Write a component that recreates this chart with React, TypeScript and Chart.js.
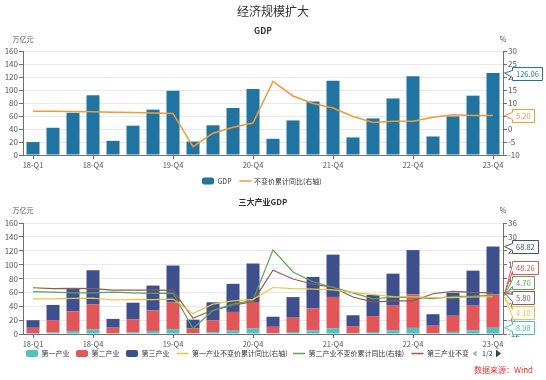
import React, { useEffect, useRef } from 'react';
import { Chart, registerables } from 'chart.js';

Chart.register(...registerables);

// ---------------- data ----------------
const QUARTERS = [
  '18-Q1', '18-Q2', '18-Q3', '18-Q4',
  '19-Q1', '19-Q2', '19-Q3', '19-Q4',
  '20-Q1', '20-Q2', '20-Q3', '20-Q4',
  '21-Q1', '21-Q2', '21-Q3', '21-Q4',
  '22-Q1', '22-Q2', '22-Q3', '22-Q4',
  '23-Q1', '23-Q2', '23-Q3', '23-Q4',
];
const SHOWN_LABELS = ['18-Q1', '18-Q4', '19-Q4', '20-Q4', '21-Q4', '22-Q4', '23-Q4'];

// GDP, cumulative, 万亿元
const GDP = [
  19.9, 41.9, 65.0, 91.9,
  21.8, 45.1, 69.8, 98.7,
  20.7, 45.7, 72.3, 101.6,
  24.9, 53.2, 82.3, 114.4,
  27.0, 56.3, 87.0, 121.0,
  28.5, 59.3, 91.3, 126.06,
];
// 不变价累计同比 %
const GDP_YOY = [
  6.8, 6.8, 6.7, 6.6,
  6.4, 6.3, 6.2, 6.0,
  -6.8, -1.6, 0.7, 2.3,
  18.3, 12.7, 9.8, 8.1,
  4.8, 2.5, 3.0, 3.0,
  4.5, 5.5, 5.2, 5.2,
];

// three industries, cumulative, 万亿元
const PRIMARY = [
  0.89, 2.21, 4.24, 6.47,
  0.88, 2.30, 4.37, 7.05,
  1.02, 2.61, 4.83, 7.78,
  1.11, 2.84, 5.14, 8.31,
  1.09, 2.91, 5.43, 8.83,
  1.16, 3.01, 5.36, 8.98,
];
const SECONDARY = [
  8.09, 17.88, 28.41, 36.48,
  8.26, 18.96, 29.50, 38.60,
  7.36, 17.24, 26.98, 38.40,
  9.25, 20.70, 32.05, 45.09,
  10.28, 22.85, 35.44, 48.32,
  10.78, 23.30, 35.50, 48.26,
];
const TERTIARY = [
  10.92, 21.81, 32.35, 48.95,
  12.66, 23.84, 35.93, 53.05,
  12.32, 25.85, 40.49, 55.42,
  14.54, 29.66, 45.11, 61.00,
  15.63, 30.54, 46.13, 63.85,
  16.56, 32.99, 50.44, 68.82,
];
const PRIMARY_YOY = [
  3.2, 3.2, 3.4, 3.5,
  2.7, 3.0, 2.9, 3.1,
  -3.2, 0.9, 2.3, 3.0,
  8.1, 7.6, 7.4, 7.1,
  6.0, 5.0, 4.2, 4.1,
  3.7, 3.7, 4.0, 4.1,
];
const SECONDARY_YOY = [
  6.3, 6.1, 5.8, 5.8,
  6.1, 5.8, 5.6, 5.7,
  -9.6, -1.9, 0.9, 2.6,
  24.4, 14.8, 10.6, 8.2,
  5.8, 3.2, 3.9, 3.8,
  3.3, 4.3, 4.4, 4.7,
];
const TERTIARY_YOY = [
  8.0, 7.6, 7.7, 7.6,
  7.0, 7.0, 7.0, 6.9,
  -5.2, -1.6, 0.4, 2.1,
  15.6, 11.8, 9.5, 8.2,
  4.0, 1.8, 2.3, 2.3,
  5.4, 6.4, 6.0, 5.8,
];

const LEFT_AXIS = { min: 0, max: 160, step: 20 };
const TOP_RIGHT_AXIS = { min: -10, max: 30, step: 5 };
const BOTTOM_RIGHT_AXIS = { min: -12, max: 36, step: 6 };

const MAIN_TITLE = '经济规模扩大';
const TOP_TITLE = 'GDP';
const BOTTOM_TITLE = '三大产业GDP';
const UNIT_LEFT = '万亿元';
const UNIT_RIGHT = '%';
const SOURCE = '数据来源：Wind';

// ---------------- styles ----------------
const FONT = '"Noto Sans CJK SC", "Noto Sans", sans-serif';
const AXIS = '#6e7079';
const GRID = '#e8e8e8';
const TXT = '#555';
const BLUE = '#21749f';
const ORANGE = '#f29b3a';
const TEAL = '#4fc1c0';
const RED = '#e15759';
const NAVY = '#3e4f8e';
const YELLOW = '#e8c547';
const GREEN = '#5da35a';
const BROWN = '#8d5e4e';

const W = 546;
const H = 190;

function xScale(stacked: boolean) {
  return {
    type: 'category',
    offset: true,
    stacked,
    grid: {
      offset: false,
      drawOnChartArea: false,
      drawTicks: true,
      tickLength: 4,
      tickColor: (c: any) => (SHOWN_LABELS.includes(QUARTERS[c.index]) ? AXIS : 'rgba(0,0,0,0)'),
    },
    border: { display: true, color: AXIS },
    ticks: {
      autoSkip: false,
      maxRotation: 0,
      minRotation: 0,
      padding: 2,
      color: TXT,
      font: { family: FONT, size: 7.5 },
      callback: (_v: any, i: number) => (SHOWN_LABELS.includes(QUARTERS[i]) ? QUARTERS[i] : ''),
    },
    afterFit: (s: any) => {
      s.height = 20;
    },
  };
}

function yLeft(stacked: boolean) {
  return {
    type: 'linear',
    position: 'left',
    min: LEFT_AXIS.min,
    max: LEFT_AXIS.max,
    stacked,
    ticks: { stepSize: LEFT_AXIS.step, padding: 1, color: TXT, font: { family: FONT, size: 8 } },
    grid: { color: GRID, drawTicks: true, tickLength: 4, tickColor: AXIS },
    border: { display: true, color: AXIS },
    afterFit: (s: any) => {
      s.width = 23;
    },
  };
}

function yRight(ax: { min: number; max: number; step: number }) {
  return {
    type: 'linear',
    position: 'right',
    min: ax.min,
    max: ax.max,
    stacked: false,
    ticks: { stepSize: ax.step, padding: 1, color: TXT, font: { family: FONT, size: 8 } },
    grid: { drawOnChartArea: false, drawTicks: true, tickLength: 4, tickColor: AXIS },
    border: { display: true, color: AXIS },
    afterFit: (s: any) => {
      s.width = 20;
    },
  };
}

function text(ctx: CanvasRenderingContext2D, s: string, x: number, y: number, size: number, color: string, align: CanvasTextAlign = 'center', weight = 'normal') {
  ctx.font = `${weight} ${size}px ${FONT}`;
  ctx.fillStyle = color;
  ctx.textAlign = align;
  ctx.textBaseline = 'middle';
  ctx.fillText(s, x, y);
}

function legendBox(ctx: CanvasRenderingContext2D, x: number, y: number, color: string) {
  const w = 12, h = 7, r = 2;
  const t = y - h / 2;
  ctx.beginPath();
  ctx.moveTo(x + r, t);
  ctx.arcTo(x + w, t, x + w, t + h, r);
  ctx.arcTo(x + w, t + h, x, t + h, r);
  ctx.arcTo(x, t + h, x, t, r);
  ctx.arcTo(x, t, x + w, t, r);
  ctx.closePath();
  ctx.fillStyle = color;
  ctx.fill();
}

function legendLine(ctx: CanvasRenderingContext2D, x: number, y: number, color: string) {
  ctx.beginPath();
  ctx.moveTo(x, y);
  ctx.lineTo(x + 12, y);
  ctx.strokeStyle = color;
  ctx.lineWidth = 1.5;
  ctx.stroke();
}

function callout(ctx: CanvasRenderingContext2D, tipX: number, tipY: number, boxX: number, cy: number, label: string, color: string) {
  ctx.font = `7.5px ${FONT}`;
  const w = Math.round(ctx.measureText(label).width + 7);
  const h = 13;
  const top = Math.round(cy - h / 2) + 0.5;
  const bx = Math.round(boxX) + 0.5;
  const mid = top + h / 2;
  ctx.beginPath();
  ctx.moveTo(bx, top);
  ctx.lineTo(bx + w, top);
  ctx.lineTo(bx + w, top + h);
  ctx.lineTo(bx, top + h);
  ctx.lineTo(bx, mid + 3.5);
  ctx.lineTo(tipX, tipY);
  ctx.lineTo(bx, mid - 3.5);
  ctx.closePath();
  ctx.fillStyle = '#fff';
  ctx.fill();
  ctx.strokeStyle = color;
  ctx.lineWidth = 1;
  ctx.stroke();
  ctx.fillStyle = color;
  ctx.textAlign = 'left';
  ctx.textBaseline = 'middle';
  ctx.fillText(label, bx + 3.5, mid + 0.5);
}

// keep fixed order, merge overlapping groups and center them on their mean target
function layoutLabels(targets: number[], spacing: number, minY: number, maxY: number) {
  let groups = targets.map((t, i) => ({ idx: [i], center: t }));
  const half = (g: any) => ((g.idx.length - 1) / 2) * spacing;
  let changed = true;
  let guard = 0;
  while (changed && guard++ < 50) {
    changed = false;
    groups.forEach((g) => {
      g.center = Math.min(Math.max(g.center, minY + half(g)), maxY - half(g));
    });
    for (let i = 0; i < groups.length - 1; i++) {
      const a = groups[i];
      const b = groups[i + 1];
      if (b.center - half(b) - (a.center + half(a)) < spacing) {
        const idx = a.idx.concat(b.idx);
        const center = idx.reduce((s, k) => s + targets[k], 0) / idx.length;
        groups.splice(i, 2, { idx, center });
        changed = true;
        break;
      }
    }
  }
  const out: number[] = new Array(targets.length);
  groups.forEach((g) => g.idx.forEach((k, j) => (out[k] = g.center - half(g) + j * spacing)));
  return out;
}

const topDeco = {
  id: 'topDeco',
  afterDraw(chart: any) {
    const { ctx, chartArea: a } = chart;
    ctx.save();
    text(ctx, MAIN_TITLE, W / 2, 11.5, 12, '#333');
    text(ctx, TOP_TITLE, (a.left + a.right) / 2, 30.5, 8.5, '#333', 'center', 'bold');
    text(ctx, UNIT_LEFT, a.left, 39.5, 7, TXT);
    text(ctx, UNIT_RIGHT, a.right, 39.5, 7, TXT);

    const ly = 181;
    const ds = chart.data.datasets;
    legendBox(ctx, 202, ly, ds[0].backgroundColor);
    text(ctx, ds[0].label, 217.5, ly, 7, '#333', 'left');
    legendLine(ctx, 239.5, ly, ds[1].borderColor);
    text(ctx, ds[1].label, 254, ly, 7, '#333', 'left');

    const last = QUARTERS.length - 1;
    const barY = chart.getDatasetMeta(0).data[last].y;
    const lineY = chart.getDatasetMeta(1).data[last].y;
    const tipX = a.right + 1.5;
    callout(ctx, tipX, barY, a.right + 9, barY, GDP[last].toFixed(2), ds[0].backgroundColor);
    callout(ctx, tipX, lineY, a.right + 9, lineY, GDP_YOY[last].toFixed(2), ds[1].borderColor);
    ctx.restore();
  },
};

const BOTTOM_LEGEND_X = [26, 76, 126, 176.5, 293, 411.5];

const bottomDeco = {
  id: 'bottomDeco',
  afterDraw(chart: any) {
    const { ctx, chartArea: a } = chart;
    ctx.save();
    text(ctx, BOTTOM_TITLE, (a.left + a.right) / 2, 11.5, 8, '#333', 'center', 'bold');
    text(ctx, UNIT_LEFT, a.left, 20, 7, TXT);
    text(ctx, UNIT_RIGHT, a.right, 20, 7, TXT);

    const ds = chart.data.datasets;
    const ly = 163.5;
    ds.forEach((d: any, i: number) => {
      const x = BOTTOM_LEGEND_X[i];
      if (d.type === 'bar') legendBox(ctx, x, ly, d.backgroundColor);
      else legendLine(ctx, x, ly, d.borderColor);
      ctx.save();
      ctx.beginPath();
      ctx.rect(0, 0, 468, H);
      ctx.clip();
      text(ctx, d.label, x + 15.5, ly, 7, '#333', 'left');
      ctx.restore();
    });
    // pager
    ctx.beginPath();
    ctx.moveTo(472.5, ly);
    ctx.lineTo(476.5, ly - 3);
    ctx.lineTo(476.5, ly + 3);
    ctx.closePath();
    ctx.fillStyle = '#aaa';
    ctx.fill();
    text(ctx, '1/2', 482, ly, 7, '#333', 'left');
    ctx.beginPath();
    ctx.moveTo(501, ly);
    ctx.lineTo(496, ly - 4);
    ctx.lineTo(496, ly + 4);
    ctx.closePath();
    ctx.fillStyle = '#2f4554';
    ctx.fill();

    text(ctx, SOURCE, 533, 180, 8, '#e8312f', 'right');

    // end-value callouts
    const last = QUARTERS.length - 1;
    const meta = (i: number) => chart.getDatasetMeta(i).data[last].y;
    // display order top->bottom: tertiary, secondary, 2nd yoy, 3rd yoy, 1st yoy, primary
    const order = [2, 1, 4, 5, 3, 0];
    const values = [PRIMARY[last], SECONDARY[last], TERTIARY[last], PRIMARY_YOY[last], SECONDARY_YOY[last], TERTIARY_YOY[last]];
    const targets = order.map((i) => meta(i));
    const ys = layoutLabels(targets, 15, a.top + 7, a.bottom - 6.5);
    order.forEach((i, k) => {
      const d = ds[i];
      const color = d.type === 'bar' ? d.backgroundColor : d.borderColor;
      callout(ctx, a.right + 1.5, targets[k], a.right + 9, ys[k], values[i].toFixed(2), color);
    });
    ctx.restore();
  },
};

export default function App() {
  const topRef = useRef<HTMLCanvasElement>(null);
  const botRef = useRef<HTMLCanvasElement>(null);

  useEffect(() => {
    const common = {
      animation: false,
      responsive: false,
      events: [],
      plugins: { legend: { display: false }, tooltip: { enabled: false }, title: { display: false } },
    };
    const c1 = new Chart(topRef.current as HTMLCanvasElement, {
      type: 'bar',
      data: {
        labels: QUARTERS,
        datasets: [
          { type: 'bar', label: 'GDP', data: GDP, backgroundColor: BLUE, yAxisID: 'y', barPercentage: 0.65, categoryPercentage: 1, order: 1 },
          { type: 'line', label: '不变价累计同比(右轴)', data: GDP_YOY, borderColor: ORANGE, backgroundColor: ORANGE, borderWidth: 1.5, pointRadius: 0, tension: 0, yAxisID: 'y2', order: 0 },
        ],
      } as any,
      options: {
        ...common,
        layout: { padding: { left: 0, right: W - 503 - 20, top: 51, bottom: H - 155 - 20 } },
        scales: { x: xScale(false), y: yLeft(false), y2: yRight(TOP_RIGHT_AXIS) },
      } as any,
      plugins: [topDeco],
    });
    const c2 = new Chart(botRef.current as HTMLCanvasElement, {
      type: 'bar',
      data: {
        labels: QUARTERS,
        datasets: [
          { type: 'bar', label: '第一产业', data: PRIMARY, backgroundColor: TEAL, yAxisID: 'y', barPercentage: 0.65, categoryPercentage: 1, order: 1, stack: 's' },
          { type: 'bar', label: '第二产业', data: SECONDARY, backgroundColor: RED, yAxisID: 'y', barPercentage: 0.65, categoryPercentage: 1, order: 1, stack: 's' },
          { type: 'bar', label: '第三产业', data: TERTIARY, backgroundColor: NAVY, yAxisID: 'y', barPercentage: 0.65, categoryPercentage: 1, order: 1, stack: 's' },
          { type: 'line', label: '第一产业不变价累计同比(右轴)', data: PRIMARY_YOY, borderColor: YELLOW, backgroundColor: YELLOW, borderWidth: 1.2, pointRadius: 0, tension: 0, yAxisID: 'y2', order: 0 },
          { type: 'line', label: '第二产业不变价累计同比(右轴)', data: SECONDARY_YOY, borderColor: GREEN, backgroundColor: GREEN, borderWidth: 1.2, pointRadius: 0, tension: 0, yAxisID: 'y2', order: 0 },
          { type: 'line', label: '第三产业不变价累计同比(右轴)', data: TERTIARY_YOY, borderColor: BROWN, backgroundColor: BROWN, borderWidth: 1.2, pointRadius: 0, tension: 0, yAxisID: 'y2', order: 0 },
        ],
      } as any,
      options: {
        ...common,
        layout: { padding: { left: 0, right: W - 503 - 20, top: 33, bottom: H - 144 - 20 } },
        scales: { x: xScale(true), y: yLeft(true), y2: yRight(BOTTOM_RIGHT_AXIS) },
      } as any,
      plugins: [bottomDeco],
    });
    return () => {
      c1.destroy();
      c2.destroy();
    };
  }, []);

  return (
    <div style={{ position: 'absolute', left: 0, top: 0, width: W, height: 380, background: '#fff', overflow: 'hidden' }}>
      <canvas ref={topRef} width={W} height={H} style={{ position: 'absolute', left: 0, top: 0 }} />
      <canvas ref={botRef} width={W} height={H} style={{ position: 'absolute', left: 0, top: 190 }} />
    </div>
  );
}
